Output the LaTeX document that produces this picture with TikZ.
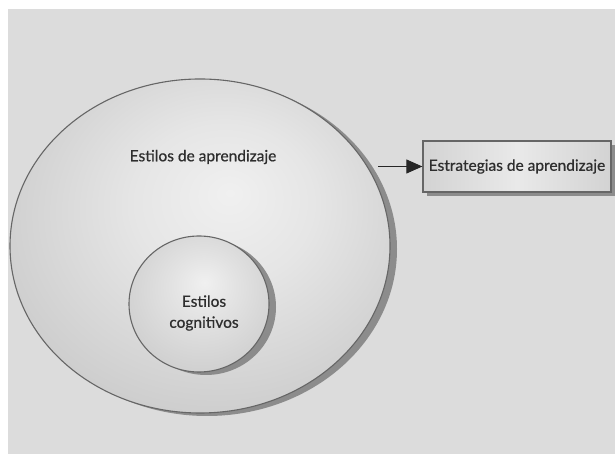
\documentclass[tikz,border=0pt]{standalone}
\usepackage{fontspec}
\setmainfont{Lato}[UprightFeatures={FakeBold=0.7}]
\usetikzlibrary{shadows,arrows.meta,shapes.geometric}
\definecolor{bg}{HTML}{DCDCDC}
\definecolor{edge}{HTML}{666666}
\definecolor{txt}{HTML}{2E2E2E}
\definecolor{ballin}{HTML}{F0F0F0}
\definecolor{ballmid}{HTML}{CDCDCD}
\definecolor{ballout}{HTML}{A6A6A6}
\definecolor{shad}{HTML}{7E7E7E}
\pgfdeclareradialshading{bigball}{\pgfpoint{4bp}{8bp}}{color(0bp)=(ballin); color(12bp)=(ballin!70!ballmid); color(30bp)=(ballmid); color(50bp)=(ballout); color(60bp)=(ballout)}
\pgfdeclareradialshading{smallball}{\pgfpoint{2bp}{8bp}}{color(0bp)=(ballin); color(12bp)=(ballin!60!ballmid); color(32bp)=(ballmid); color(50bp)=(ballout); color(60bp)=(ballout)}
\pgfdeclarehorizontalshading{boxshade}{100bp}{color(0bp)=(ballout!70!ballin); color(50bp)=(ballin!80!ballmid); color(100bp)=(ballout!70!ballin)}
\tikzset{
  ball/.style={ellipse, draw=edge, line width=1.1pt, inner sep=0pt,
    drop shadow={shadow xshift=7pt, shadow yshift=-3pt, fill=shad, opacity=0.85}},
  label/.style={text=txt, font=\fontsize{15.5}{18}\selectfont, align=center},
  stratbox/.style={draw=edge, line width=1.3pt, shading=boxshade,
    minimum width=188pt, minimum height=51pt, inner sep=0pt,
    drop shadow={shadow xshift=4pt, shadow yshift=-4pt, fill=shad, opacity=0.85}},
  conn/.style={draw=black!85, line width=1pt, -{Triangle[length=16pt,width=14pt]}}
}
\begin{document}
\begin{tikzpicture}[x=1pt,y=1pt]
\useasboundingbox (0,0) rectangle (615,454);
\fill[white] (0,0) rectangle (615,454);
\fill[bg] (8,0) rectangle (615,445);
\node[ball, shading=bigball, minimum width=380pt, minimum height=334pt] (big) at (200,208) {};
\node[label] (bigtxt) at (203,297) {Estilos de aprendizaje};
\node[ball, shading=smallball, minimum width=140pt, minimum height=136pt] (small) at (199,150) {};
\node[label, font=\fontsize{15.5}{21}\selectfont] (smalltxt) at (204,141) {Estilos\\cognitivos};
\node[stratbox] (box) at (517,287.5) {};
\node[label] (boxtxt) at (box.center) {Estrategias de aprendizaje};
\coordinate (a0) at (378,287.5);
\draw[conn] (a0) -- (box.west);
\end{tikzpicture}
\end{document}
